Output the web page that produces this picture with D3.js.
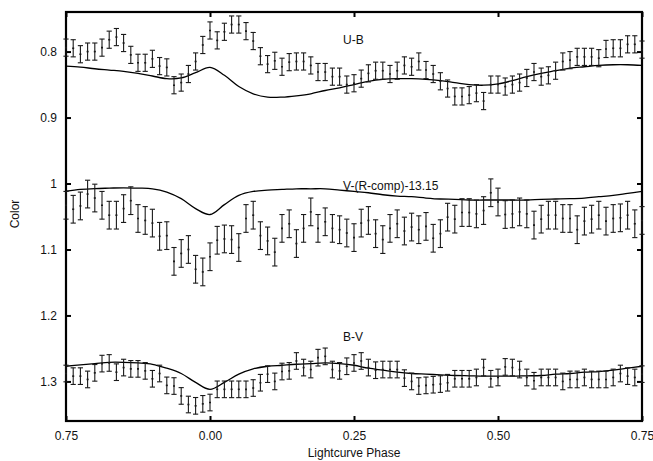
<!DOCTYPE html>
<html>
<head>
<meta charset="utf-8">
<script src="https://cdn.jsdelivr.net/npm/d3@7"></script>
<style>
  body { margin: 0; background: #fff; }
  svg { display: block; font-family: "Liberation Sans", Arial, Helvetica, sans-serif; }
</style>
</head>
<body>
<div id="chart-area"></div>
<script>
// DATA (phase 0.75 -> 1.75, one cycle, 81 points every 0.0125)
var pointPhases = d3.range(81).map(function(i) { return 0.75 + i * 0.0125; });

var ubObs = [0.794, 0.795, 0.804, 0.800, 0.800, 0.794, 0.782, 0.778, 0.787, 0.805,
             0.817, 0.817, 0.811, 0.822, 0.824, 0.851, 0.847, 0.834, 0.815, 0.790,
             0.768, 0.783, 0.770, 0.759, 0.759, 0.769, 0.784, 0.807, 0.819, 0.814,
             0.823, 0.816, 0.815, 0.815, 0.821, 0.831, 0.831, 0.838, 0.838, 0.850,
             0.848, 0.841, 0.833, 0.829, 0.829, 0.834, 0.829, 0.821, 0.823, 0.815,
             0.828, 0.834, 0.845, 0.856, 0.868, 0.868, 0.866, 0.863, 0.875, 0.850,
             0.850, 0.853, 0.850, 0.847, 0.840, 0.831, 0.838, 0.836, 0.829, 0.815,
             0.813, 0.808, 0.808, 0.808, 0.810, 0.796, 0.795, 0.795, 0.789, 0.789,
             0.797];

var vrObs = [1.033, 1.039, 1.034, 1.016, 1.022, 1.033, 1.048, 1.048, 1.038, 1.026,
             1.053, 1.056, 1.060, 1.080, 1.079, 1.118, 1.106, 1.100, 1.130, 1.134,
             1.111, 1.086, 1.084, 1.085, 1.097, 1.053, 1.048, 1.079, 1.087, 1.104,
             1.068, 1.061, 1.091, 1.068, 1.043, 1.068, 1.058, 1.068, 1.070, 1.075,
             1.082, 1.060, 1.056, 1.076, 1.085, 1.068, 1.061, 1.072, 1.066, 1.070,
             1.065, 1.083, 1.076, 1.051, 1.054, 1.044, 1.044, 1.046, 1.041, 1.014,
             1.028, 1.047, 1.046, 1.043, 1.046, 1.063, 1.054, 1.048, 1.048, 1.053,
             1.053, 1.070, 1.057, 1.054, 1.048, 1.057, 1.053, 1.052, 1.048, 1.061,
             1.056];

var bvObs = [1.288, 1.292, 1.292, 1.297, 1.287, 1.273, 1.272, 1.286, 1.279, 1.281,
             1.281, 1.284, 1.296, 1.288, 1.306, 1.307, 1.322, 1.335, 1.337, 1.334,
             1.332, 1.312, 1.312, 1.312, 1.312, 1.312, 1.310, 1.302, 1.289, 1.300,
             1.285, 1.284, 1.269, 1.279, 1.282, 1.264, 1.262, 1.282, 1.284, 1.277,
             1.272, 1.269, 1.279, 1.283, 1.282, 1.282, 1.282, 1.295, 1.300, 1.307,
             1.306, 1.305, 1.304, 1.302, 1.296, 1.296, 1.296, 1.294, 1.279, 1.296,
             1.294, 1.278, 1.279, 1.282, 1.294, 1.299, 1.294, 1.294, 1.294, 1.300,
             1.297, 1.297, 1.294, 1.297, 1.297, 1.297, 1.294, 1.288, 1.292, 1.294,
             1.289];

var ubErr = 0.013, vrErr = 0.021, bvErr = 0.0126;

// MODEL CURVES (phase 0.75 -> 1.75 every 0.025)
var modelPhases = d3.range(41).map(function(i) { return 0.75 + i * 0.025; });

var ubModel = [0.822, 0.8235, 0.826, 0.828, 0.830, 0.833, 0.837, 0.841, 0.840, 0.832,
               0.824, 0.836, 0.853, 0.864, 0.869, 0.869, 0.867, 0.864, 0.859, 0.855,
               0.850, 0.845, 0.842, 0.841, 0.841, 0.842, 0.844, 0.847, 0.850, 0.851,
               0.849, 0.844, 0.838, 0.833, 0.829, 0.825, 0.823, 0.821, 0.820, 0.820,
               0.821];

var vrModel = [1.0117, 1.009, 1.0076, 1.007, 1.0065, 1.007, 1.008, 1.013, 1.023, 1.038,
               1.047, 1.032, 1.018, 1.012, 1.010, 1.009, 1.008, 1.008, 1.008, 1.010,
               1.012, 1.014, 1.017, 1.019, 1.020, 1.022, 1.0235, 1.024, 1.025, 1.025,
               1.025, 1.025, 1.025, 1.024, 1.0235, 1.023, 1.022, 1.020, 1.018, 1.015,
               1.012];

var bvModel = [1.277, 1.275, 1.273, 1.271, 1.271, 1.272, 1.274, 1.280, 1.288, 1.3015,
               1.312, 1.3015, 1.289, 1.281, 1.277, 1.2755, 1.274, 1.273, 1.272, 1.273,
               1.2755, 1.280, 1.283, 1.286, 1.288, 1.289, 1.290, 1.291, 1.2915, 1.292,
               1.292, 1.292, 1.2915, 1.291, 1.289, 1.288, 1.286, 1.285, 1.283, 1.280,
               1.277];

var seriesNames = ["U-B", "V-(R-comp)-13.15", "B-V"];
var labelPos = [[1.231, 0.788], [1.231, 1.0098], [1.231, 1.2387]];

var xTickValues = [0.75, 1.0, 1.25, 1.5, 1.75];
var xTickLabels = ["0.75", "0.00", "0.25", "0.50", "0.75"];
var yTickValues = [0.8, 0.9, 1.0, 1.1, 1.2, 1.3];
var yTickLabels = ["0.8", "0.9", "1", "1.1", "1.2", "1.3"];

// SETUP
var W = 653, H = 461;
var margin = { left: 66, right: 11, top: 12, bottom: 40 };
var width = W - margin.left - margin.right,
    height = H - margin.top - margin.bottom;

var svg = d3.select("#chart-area")
    .append("svg")
        .attr("width", W)
        .attr("height", H);

var g = svg.append("g")
    .attr("transform", "translate(" + margin.left + "," + margin.top + ")");

// SCALES
var x = d3.scaleLinear().domain([0.75, 1.75]).range([0, width]);
var y = d3.scaleLinear().domain([0.74, 1.36]).range([0, height]);

// AXES (ticks pointing inward, on all four sides)
function xFmt(d) { return xTickLabels[xTickValues.indexOf(d)]; }
function yFmt(d) { return yTickLabels[yTickValues.indexOf(d)]; }

var axes = [
    { call: d3.axisBottom(x).tickValues(xTickValues).tickFormat(xFmt).tickPadding(10), tr: "translate(0," + height + ")" },
    { call: d3.axisTop(x).tickValues(xTickValues).tickFormat(""), tr: "translate(0,0)" },
    { call: d3.axisLeft(y).tickValues(yTickValues).tickFormat(yFmt).tickPadding(9), tr: "translate(0,0)" },
    { call: d3.axisRight(y).tickValues(yTickValues).tickFormat(""), tr: "translate(" + width + ",0)" }
];

axes.forEach(function(a) {
    var ax = g.append("g")
        .attr("transform", a.tr)
        .call(a.call.tickSizeInner(-5).tickSizeOuter(0));
    ax.select(".domain").remove();
    ax.selectAll(".tick line").attr("stroke", "#000").attr("stroke-width", 2);
    ax.selectAll(".tick text")
        .attr("fill", "#111")
        .attr("font-size", "12px")
        .attr("font-family", "'Liberation Sans', Arial, sans-serif");
});

// FRAME
g.append("rect")
    .attr("x", 0)
    .attr("y", 0)
    .attr("width", width)
    .attr("height", height)
    .attr("fill", "none")
    .attr("stroke", "#000")
    .attr("stroke-width", 2.2);

// AXIS LABELS
svg.append("text")
    .attr("x", margin.left + width / 2)
    .attr("y", 457)
    .attr("text-anchor", "middle")
    .attr("font-size", "12px")
    .attr("fill", "#111")
    .text("Lightcurve Phase");

svg.append("text")
    .attr("transform", "translate(19," + (margin.top + 202) + ") rotate(-90)")
    .attr("text-anchor", "middle")
    .attr("font-size", "12px")
    .attr("fill", "#111")
    .text("Color");

// MODEL LINES
var line = d3.line()
    .x(function(d) { return x(d[0]); })
    .y(function(d) { return y(d[1]); })
    .curve(d3.curveCatmullRom);

[ubModel, vrModel, bvModel].forEach(function(m) {
    g.append("path")
        .datum(modelPhases.map(function(p, i) { return [p, m[i]]; }))
        .attr("d", line)
        .attr("fill", "none")
        .attr("stroke", "#000")
        .attr("stroke-width", 1.3);
});

// ERROR BARS
var obsSets = [[ubObs, ubErr], [vrObs, vrErr], [bvObs, bvErr]];
var capW = 2.6;

obsSets.forEach(function(s) {
    var pts = pointPhases.map(function(p, i) { return { p: p, v: s[0][i], e: s[1] }; });
    var bars = g.append("g")
        .attr("stroke", "#1a1a1a")
        .attr("stroke-width", 1.1)
        .selectAll("g")
        .data(pts)
        .enter()
        .append("g");

    bars.append("line")
        .attr("x1", function(d) { return x(d.p); })
        .attr("x2", function(d) { return x(d.p); })
        .attr("y1", function(d) { return y(d.v - d.e); })
        .attr("y2", function(d) { return y(d.v + d.e); });

    bars.append("line")
        .attr("x1", function(d) { return x(d.p) - capW; })
        .attr("x2", function(d) { return x(d.p) + capW; })
        .attr("y1", function(d) { return y(d.v - d.e); })
        .attr("y2", function(d) { return y(d.v - d.e); });

    bars.append("line")
        .attr("x1", function(d) { return x(d.p) - capW; })
        .attr("x2", function(d) { return x(d.p) + capW; })
        .attr("y1", function(d) { return y(d.v + d.e); })
        .attr("y2", function(d) { return y(d.v + d.e); });

    // small point marker at the centre of each bar
    bars.append("line")
        .attr("x1", function(d) { return x(d.p) - 1; })
        .attr("x2", function(d) { return x(d.p) + 1; })
        .attr("y1", function(d) { return y(d.v); })
        .attr("y2", function(d) { return y(d.v); })
        .attr("stroke-width", 1.6);
});

// SERIES LABELS
seriesNames.forEach(function(name, i) {
    g.append("text")
        .attr("x", x(labelPos[i][0]))
        .attr("y", y(labelPos[i][1]))
        .attr("font-size", "12px")
        .attr("fill", "#111")
        .text(name);
});
</script>
</body>
</html>
